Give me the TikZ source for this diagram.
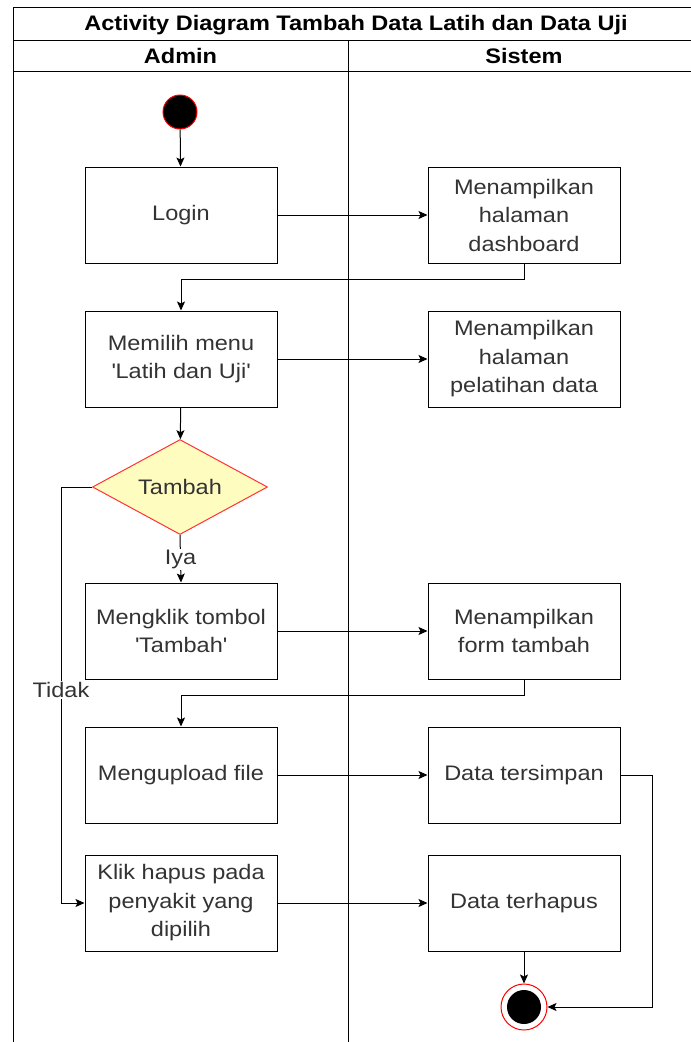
\documentclass[tikz,border=0pt]{standalone}
\usepackage{fontspec}
\setmainfont{Liberation Sans}[FakeStretch=1.12]
\usetikzlibrary{shapes.geometric,arrows.meta}
\definecolor{txt}{HTML}{333333}
\begin{document}
\begin{tikzpicture}[x=1pt,y=-1pt,
  font=\fontsize{21}{28.5}\selectfont,
  act/.style={draw=black,line width=1pt,fill=white,minimum width=192pt,minimum height=96pt,inner sep=0pt,text=txt,align=center},
  flow/.style={draw=black,line width=1pt,-{Stealth[length=9pt,width=8pt,inset=2pt]}},
  lane/.style={draw=black,line width=0.9pt},
  lbl/.style={fill=white,text=txt,inner sep=1pt}]
\useasboundingbox (0,0) rectangle (691,1042);
\clip (0,0) rectangle (691,1042);
\fill[white] (0,0) rectangle (691,1042);
% swimlane frame
\draw[lane] (13,1050) -- (13,7) -- (705,7);
\draw[lane] (13,40) -- (705,40);
\draw[lane] (13,71) -- (705,71);
\draw[lane] (348,40) -- (348,1050);
\node[font=\bfseries\fontsize{21}{24}\selectfont] (title) at (356,25) {Activity Diagram Tambah Data Latih dan Data Uji};
\node[font=\bfseries\fontsize{21}{24}\selectfont] (hadmin) at (180.5,56) {Admin};
\node[font=\bfseries\fontsize{21}{24}\selectfont] (hsistem) at (524,56) {Sistem};
% nodes
\node[circle,draw=red,fill=black,line width=1pt,minimum size=34pt,inner sep=0pt] (start) at (180,112) {};
\node[act] (login) at (181,215) {Login};
\node[act] (dash) at (524,215) {Menampilkan\\halaman\\dashboard};
\node[act] (menu) at (181,359) {Memilih menu\\\textquotesingle Latih dan Uji\textquotesingle};
\node[act] (pel) at (524,359) {Menampilkan\\halaman\\pelatihan data};
\node[diamond,draw=red!80,fill=yellow!25,line width=1pt,minimum width=175pt,minimum height=95pt,aspect=1.84,inner sep=0pt,text=txt] (dec) at (180,487) {Tambah};
\node[act] (klik) at (181,631) {Mengklik tombol\\\textquotesingle Tambah\textquotesingle};
\node[act] (form) at (524,631) {Menampilkan\\form tambah};
\node[act] (upload) at (181,775) {Mengupload file};
\node[act] (simpan) at (524,775) {Data tersimpan};
\node[act] (hapus) at (181,903) {Klik hapus pada\\penyakit yang\\dipilih};
\node[act] (terhapus) at (524,903) {Data terhapus};
\node[circle,draw=red,fill=white,line width=1pt,minimum size=46pt,inner sep=0pt] (end) at (524,1007) {};
\node[circle,fill=black,minimum size=34pt,inner sep=0pt] (endin) at (524,1007) {};
\coordinate (t1) at (61,487);
\coordinate (t2) at (61,903);
% connectors
\draw[flow] (start) -- (login);
\draw[flow] (login) -- (dash);
\draw[flow] (dash.south) -- ++(0,16) -| (menu.north);
\draw[flow] (menu) -- (pel);
\draw[flow] (menu) -- (dec);
\draw[flow] (dec.south) -- node[lbl,pos=0.52] (iya) {Iya} (klik.north);
\draw[flow] (dec.west) -- (t1) -- node[lbl,pos=0.488] (tidak) {Tidak} (t2) -- (hapus.west);
\draw[flow] (klik) -- (form);
\draw[flow] (form.south) -- ++(0,16) -| (upload.north);
\draw[flow] (upload) -- (simpan);
\draw[flow] (hapus) -- (terhapus);
\draw[flow] (terhapus) -- (end);
\draw[flow] (simpan.east) -- (652,775) |- (end.east);
\end{tikzpicture}
\end{document}
